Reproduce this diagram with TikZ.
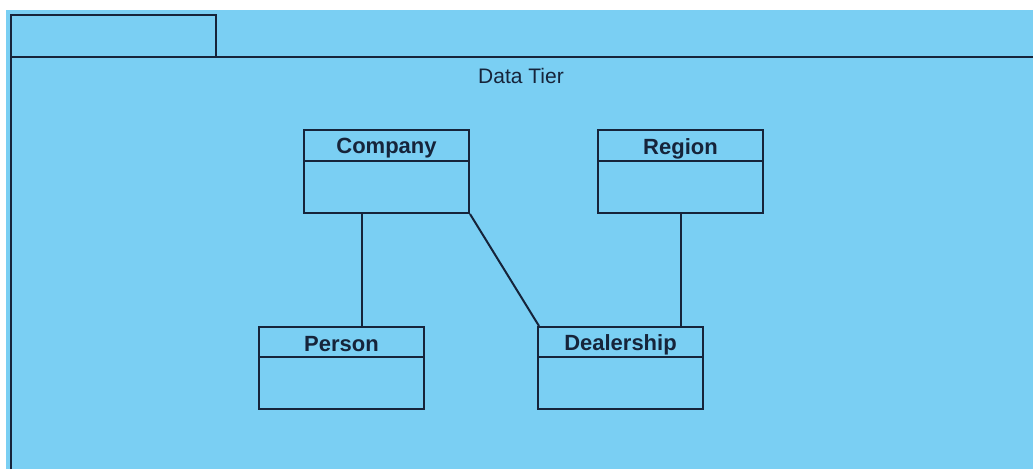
\documentclass[tikz,border=0pt]{standalone}
\usepackage{fontspec}
\setmainfont{Liberation Sans}
\definecolor{pkgblue}{RGB}{122,207,243}
\definecolor{ink}{RGB}{22,36,58}
\begin{document}
\begin{tikzpicture}[x=1pt,y=-1pt,
  ln/.style={draw=ink,line width=2pt},
  classbox/.style={ln,rectangle,anchor=north west,minimum width=165pt,minimum height=83pt,inner sep=0pt},
  cname/.style={font=\fontsize{22}{26}\selectfont\bfseries,text=ink,anchor=center},
  link/.style={ln}]
\useasboundingbox (0,0) rectangle (1033,469);
\fill[white] (0,0) rectangle (1033,469);
\fill[pkgblue] (6,10) rectangle (1033,469);
% package outline
\draw[ln] (11,469) -- (11,15) -- (216,15) -- (216,57);
\draw[ln] (11,57) -- (1033,57);
\node[font=\fontsize{21}{25}\selectfont,text=ink] (title) at (521,76) {Data Tier};
% classes
\node[classbox] (company) at (303,129) {};
\node[classbox] (region) at (597,129) {};
\node[classbox,minimum height=82pt] (person) at (258,326) {};
\node[classbox,minimum height=82pt] (dealer) at (537,326) {};
\draw[ln] ([yshift=-32pt]company.north west) -- ([yshift=-32pt]company.north east);
\draw[ln] ([yshift=-32pt]region.north west) -- ([yshift=-32pt]region.north east);
\draw[ln] ([yshift=-31pt]person.north west) -- ([yshift=-31pt]person.north east);
\draw[ln] ([yshift=-31pt]dealer.north west) -- ([yshift=-31pt]dealer.north east);
\node[cname] (companyname) at ([yshift=-19.5pt]company.north) {Company};
\node[cname] (regionname) at ([yshift=-19.5pt]region.north) {Region};
\node[cname] (personname) at ([yshift=-18.5pt]person.north) {Person};
\node[cname] (dealername) at ([yshift=-18.5pt]dealer.north) {Dealership};
% connectors
\draw[link] ([xshift=59pt]company.south west) -- ([xshift=104pt]person.north west);
\draw[link] (company.south east) -- ([xshift=2pt]dealer.north west);
\draw[link] ([xshift=84pt]region.south west) -- ([xshift=144pt]dealer.north west);
\end{tikzpicture}
\end{document}
